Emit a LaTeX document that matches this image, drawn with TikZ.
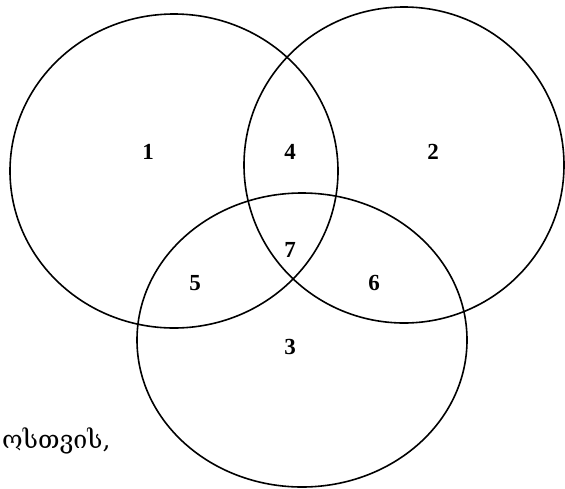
\documentclass[tikz,border=0pt]{standalone}
\usepackage{fontspec}
\setmainfont{Liberation Serif}
\newfontfamily\geofont{DejaVu Serif}
\begin{document}
\begin{tikzpicture}[x=1pt,y=-1pt,
  venn/.style={draw=black,line width=1.6pt},
  num/.style={font=\fontsize{23}{27}\selectfont\bfseries,inner sep=0pt},
  geo/.style={font=\geofont\fontsize{25}{30}\selectfont,inner sep=0pt,anchor=base west}]
\useasboundingbox (0,0) rectangle (565,488);
\begin{scope}
\clip (0,0) rectangle (565,488);
\draw[venn] (174,171) ellipse [x radius=164, y radius=157];
\draw[venn] (404,165) ellipse [x radius=160, y radius=158];
\draw[venn] (302,340) ellipse [x radius=165, y radius=147];
\node[geo] (txt) at (2,448) {ოსთვის,};
\end{scope}
\node[num] (n1) at (148,152) {1};
\node[num] (n4) at (290,152) {4};
\node[num] (n2) at (433,152) {2};
\node[num] (n7) at (290,250) {7};
\node[num] (n5) at (195,283) {5};
\node[num] (n6) at (374,283) {6};
\node[num] (n3) at (290,347) {3};
\end{tikzpicture}
\end{document}
